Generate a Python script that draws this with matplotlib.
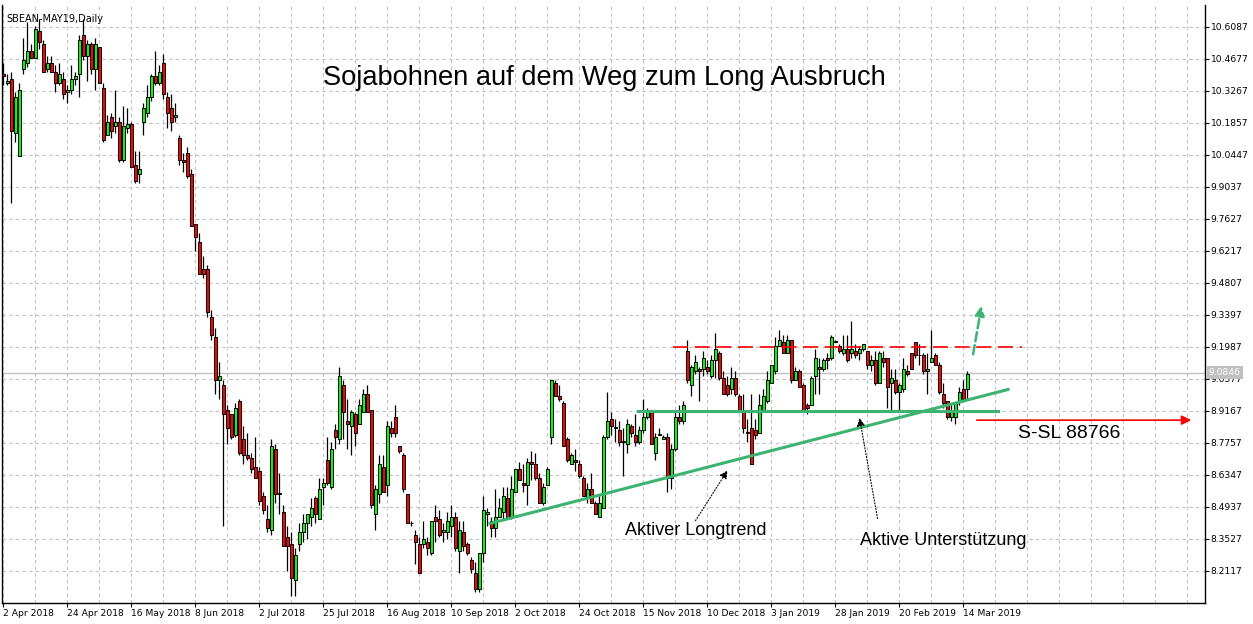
import numpy as np
import matplotlib.pyplot as plt

# daily candles SBEAN-MAY19, 2 Apr 2018 .. 14 Mar 2019
opens = [10.40, 10.36, 10.38, 10.14, 10.04, 10.42, 10.45, 10.50, 10.47, 10.59,
         10.53, 10.42, 10.45, 10.41, 10.36, 10.38, 10.32, 10.33, 10.38, 10.40,
         10.57, 10.48, 10.53, 10.42, 10.52, 10.34, 10.13, 10.21, 10.17, 10.19,
         10.02, 10.16, 10.18, 10.00, 9.96, 10.19, 10.23, 10.30, 10.39, 10.36,
         10.45, 10.30, 10.25, 10.21, 10.12, 10.02, 10.05, 9.96, 9.74, 9.66,
         9.54, 9.54, 9.33, 9.24, 9.05, 9.03, 8.92, 8.90, 8.81, 8.96,
         8.79, 8.72, 8.71, 8.67, 8.65, 8.54, 8.44, 8.39, 8.75, 8.55,
         8.47, 8.36, 8.33, 8.17, 8.33, 8.38, 8.42, 8.45, 8.53, 8.44,
         8.58, 8.70, 8.58, 8.83, 8.79, 9.03, 8.87, 8.85, 8.90, 8.86,
         8.91, 8.99, 8.92, 8.46, 8.55, 8.67, 8.59, 8.84, 8.89, 8.76,
         8.72, 8.55, 8.42, 8.37, 8.33, 8.33, 8.34, 8.29, 8.45, 8.44,
         8.38, 8.38, 8.41, 8.45, 8.30, 8.38, 8.33, 8.26, 8.20, 8.13,
         8.29, 8.46, 8.43, 8.40, 8.45, 8.47, 8.53, 8.45, 8.56, 8.66,
         8.60, 8.59, 8.69, 8.68, 8.62, 8.51, 8.59, 8.80, 9.04, 8.98,
         8.95, 8.79, 8.68, 8.70, 8.68, 8.62, 8.53, 8.57, 8.51, 8.45,
         8.49, 8.80, 8.88, 8.84, 8.83, 8.78, 8.77, 8.85, 8.81, 8.78,
         8.83, 8.89, 8.91, 8.73, 8.81, 8.79, 8.80, 8.62, 8.75, 8.89,
         8.87, 9.18, 9.03, 9.09, 9.10, 9.10, 9.11, 9.07, 9.14, 9.17,
         9.06, 9.03, 9.01, 9.06, 8.98, 8.92, 8.82, 8.84, 8.83, 8.82,
         8.92, 8.96, 9.04, 9.09, 9.20, 9.22, 9.17, 9.23, 9.05, 9.09,
         9.03, 8.94, 8.94, 9.07, 9.11, 9.10, 9.15, 9.15, 9.22, 9.20,
         9.17, 9.19, 9.17, 9.18, 9.17, 9.19, 9.18, 9.12, 9.14, 9.04,
         9.15, 9.15, 9.04, 9.05, 9.00, 9.01, 9.09, 9.17, 9.22, 9.16,
         9.16, 9.09, 9.13, 9.16, 9.12, 8.99, 8.96, 8.89, 8.89, 8.96,
         9.01, 9.01]
highs = [10.45, 10.40, 10.41, 10.32, 10.36, 10.56, 10.63, 10.53, 10.61, 10.64,
         10.55, 10.48, 10.48, 10.44, 10.45, 10.41, 10.35, 10.44, 10.41, 10.57,
         10.64, 10.55, 10.54, 10.56, 10.52, 10.36, 10.22, 10.23, 10.33, 10.21,
         10.26, 10.25, 10.19, 10.06, 10.06, 10.27, 10.35, 10.40, 10.50, 10.44,
         10.49, 10.32, 10.31, 10.27, 10.13, 10.05, 10.08, 9.98, 9.74, 9.70,
         9.60, 9.56, 9.36, 9.28, 9.13, 9.05, 8.94, 8.90, 8.95, 8.97,
         8.85, 8.82, 8.73, 8.80, 8.67, 8.56, 8.50, 8.79, 8.77, 8.64,
         8.50, 8.41, 8.38, 8.31, 8.42, 8.46, 8.46, 8.53, 8.54, 8.62,
         8.62, 8.80, 8.78, 8.86, 9.11, 9.05, 8.97, 8.92, 8.91, 8.97,
         9.01, 9.03, 8.92, 8.59, 8.72, 8.72, 8.87, 8.87, 8.94, 8.76,
         8.73, 8.55, 8.43, 8.39, 8.36, 8.43, 8.36, 8.43, 8.50, 8.48,
         8.42, 8.47, 8.50, 8.47, 8.43, 8.43, 8.34, 8.27, 8.25, 8.29,
         8.54, 8.49, 8.45, 8.57, 8.53, 8.58, 8.58, 8.63, 8.66, 8.69,
         8.68, 8.71, 8.74, 8.73, 8.64, 8.60, 8.67, 9.05, 9.05, 9.03,
         8.96, 8.80, 8.73, 8.75, 8.70, 8.63, 8.60, 8.64, 8.52, 8.54,
         8.81, 9.00, 8.91, 8.88, 8.87, 8.84, 8.88, 8.86, 8.90, 8.85,
         8.97, 8.93, 8.91, 8.82, 8.84, 8.81, 8.82, 8.77, 8.91, 8.94,
         8.96, 9.23, 9.12, 9.16, 9.11, 9.18, 9.14, 9.16, 9.26, 9.18,
         9.09, 9.07, 9.11, 9.09, 8.99, 8.99, 8.88, 8.99, 8.88, 8.99,
         9.01, 9.09, 9.12, 9.24, 9.27, 9.25, 9.25, 9.23, 9.11, 9.10,
         9.04, 8.95, 9.07, 9.19, 9.15, 9.15, 9.17, 9.25, 9.23, 9.21,
         9.25, 9.25, 9.31, 9.21, 9.20, 9.21, 9.18, 9.16, 9.18, 9.18,
         9.18, 9.15, 9.10, 9.10, 9.04, 9.15, 9.12, 9.17, 9.22, 9.21,
         9.17, 9.17, 9.27, 9.17, 9.13, 9.04, 8.96, 8.95, 8.95, 9.02,
         9.05, 9.09]
lows = [10.35, 10.35, 9.83, 10.10, 10.04, 10.40, 10.43, 10.47, 10.47, 10.51,
        10.41, 10.41, 10.41, 10.32, 10.35, 10.29, 10.27, 10.31, 10.35, 10.30,
        10.46, 10.37, 10.40, 10.33, 10.36, 10.10, 10.13, 10.12, 10.14, 10.01,
        10.01, 10.14, 9.99, 9.92, 9.92, 10.13, 10.21, 10.28, 10.35, 10.35,
        10.29, 10.16, 10.15, 10.19, 10.00, 9.97, 9.94, 9.73, 9.62, 9.52,
        9.50, 9.33, 9.23, 8.99, 8.97, 8.41, 8.77, 8.79, 8.80, 8.72,
        8.68, 8.70, 8.64, 8.62, 8.50, 8.46, 8.38, 8.37, 8.51, 8.46,
        8.32, 8.21, 8.10, 8.10, 8.30, 8.34, 8.35, 8.41, 8.42, 8.44,
        8.50, 8.59, 8.57, 8.75, 8.77, 8.79, 8.75, 8.72, 8.76, 8.86,
        8.91, 8.91, 8.49, 8.39, 8.51, 8.56, 8.54, 8.80, 8.80, 8.73,
        8.56, 8.42, 8.41, 8.24, 8.20, 8.31, 8.28, 8.28, 8.34, 8.36,
        8.34, 8.35, 8.36, 8.30, 8.20, 8.30, 8.28, 8.20, 8.12, 8.12,
        8.25, 8.41, 8.36, 8.36, 8.45, 8.44, 8.44, 8.44, 8.56, 8.61,
        8.56, 8.50, 8.61, 8.61, 8.51, 8.50, 8.59, 8.77, 8.98, 8.96,
        8.76, 8.69, 8.68, 8.65, 8.62, 8.54, 8.51, 8.51, 8.46, 8.45,
        8.49, 8.79, 8.81, 8.78, 8.76, 8.63, 8.73, 8.80, 8.76, 8.77,
        8.82, 8.88, 8.77, 8.70, 8.81, 8.79, 8.56, 8.57, 8.74, 8.86,
        8.86, 9.04, 8.98, 9.08, 8.96, 9.07, 9.08, 9.06, 9.06, 9.05,
        8.99, 8.98, 8.99, 8.98, 8.92, 8.82, 8.78, 8.68, 8.79, 8.82,
        8.92, 8.95, 9.04, 9.08, 9.20, 9.17, 9.17, 9.04, 9.05, 9.02,
        8.92, 8.90, 8.94, 8.99, 8.99, 9.09, 9.10, 9.14, 9.22, 9.17,
        9.16, 9.13, 9.15, 9.15, 9.14, 9.18, 9.10, 9.09, 9.03, 9.04,
        9.11, 8.93, 8.92, 8.99, 8.92, 9.00, 9.07, 9.10, 9.15, 9.12,
        9.08, 8.99, 9.13, 9.12, 8.99, 8.93, 8.88, 8.87, 8.86, 8.94,
        8.96, 8.97]
closes = [10.39, 10.37, 10.15, 10.30, 10.33, 10.46, 10.50, 10.47, 10.60, 10.54,
          10.41, 10.45, 10.41, 10.36, 10.40, 10.31, 10.33, 10.38, 10.39, 10.55,
          10.48, 10.53, 10.42, 10.53, 10.36, 10.11, 10.19, 10.15, 10.19, 10.02,
          10.17, 10.18, 9.99, 9.93, 9.98, 10.25, 10.30, 10.39, 10.36, 10.41,
          10.31, 10.23, 10.19, 10.22, 10.02, 10.01, 9.95, 9.73, 9.68, 9.52,
          9.52, 9.35, 9.25, 9.05, 9.07, 8.90, 8.84, 8.80, 8.93, 8.73,
          8.72, 8.71, 8.66, 8.62, 8.52, 8.48, 8.40, 8.76, 8.55, 8.55,
          8.32, 8.32, 8.18, 8.28, 8.38, 8.42, 8.46, 8.49, 8.46, 8.57,
          8.60, 8.60, 8.75, 8.80, 9.07, 8.91, 8.86, 8.91, 8.82, 8.94,
          8.99, 8.91, 8.50, 8.57, 8.68, 8.56, 8.85, 8.82, 8.82, 8.74,
          8.57, 8.42, 8.42, 8.34, 8.20, 8.35, 8.31, 8.43, 8.43, 8.37,
          8.39, 8.43, 8.45, 8.31, 8.39, 8.32, 8.29, 8.22, 8.13, 8.29,
          8.48, 8.47, 8.40, 8.45, 8.49, 8.54, 8.45, 8.57, 8.66, 8.61,
          8.59, 8.69, 8.68, 8.62, 8.51, 8.58, 8.66, 9.05, 8.98, 8.97,
          8.76, 8.70, 8.72, 8.69, 8.63, 8.54, 8.57, 8.51, 8.46, 8.51,
          8.80, 8.87, 8.85, 8.84, 8.78, 8.78, 8.86, 8.82, 8.78, 8.83,
          8.89, 8.91, 8.77, 8.80, 8.81, 8.80, 8.62, 8.75, 8.89, 8.87,
          8.94, 9.05, 9.11, 9.13, 9.09, 9.15, 9.09, 9.14, 9.19, 9.06,
          8.99, 8.99, 9.06, 8.99, 8.92, 8.84, 8.82, 8.68, 8.81, 8.94,
          8.98, 9.05, 9.12, 9.20, 9.23, 9.17, 9.23, 9.05, 9.09, 9.02,
          8.92, 8.93, 9.06, 9.15, 9.10, 9.14, 9.14, 9.24, 9.22, 9.18,
          9.19, 9.14, 9.19, 9.16, 9.19, 9.21, 9.12, 9.14, 9.04, 9.17,
          9.13, 9.02, 9.06, 9.00, 9.03, 9.10, 9.08, 9.10, 9.16, 9.16,
          9.09, 9.10, 9.15, 9.12, 9.00, 8.95, 8.89, 8.92, 8.95, 9.00,
          8.97, 9.08]

date_labels = ['2 Apr 2018', '24 Apr 2018', '16 May 2018', '8 Jun 2018',
               '2 Jul 2018', '25 Jul 2018', '16 Aug 2018', '10 Sep 2018',
               '2 Oct 2018', '24 Oct 2018', '15 Nov 2018', '10 Dec 2018',
               '3 Jan 2019', '28 Jan 2019', '20 Feb 2019', '14 Mar 2019']
price_ticks = [8.2117, 8.3527, 8.4937, 8.6347, 8.7757, 8.9167, 9.0577, 9.1987,
               9.3397, 9.4807, 9.6217, 9.7627, 9.9037, 10.0447, 10.1857,
               10.3267, 10.4677, 10.6087]
last_price = 9.0846
stop_level = 8.875
resistance = 9.198
support = 8.917

o = np.array(opens); h = np.array(highs); l = np.array(lows); c = np.array(closes)
idx = np.arange(len(o))

fig = plt.figure(figsize=(12.53, 6.24), dpi=100)
ax = fig.add_axes([2 / 1253, 21 / 624, 1203 / 1253, 598 / 624])
ax.set_xlim(-0.25, 300.5)
ax.set_ylim(8.0694, 10.7038)

# grid
for gx in range(0, 301, 8):
    ax.axvline(gx, color='#c0c0c0', lw=0.8, ls=(0, (3, 3)), zorder=0)
for gy in price_ticks:
    ax.axhline(gy, color='#c0c0c0', lw=0.8, ls=(0, (3, 3)), zorder=0)
ax.axhline(last_price, color='#c0c0c0', lw=1.0, zorder=0.5)

# candles
up = c >= o
ax.vlines(idx, l, h, color='black', lw=0.9, zorder=2)
body_h = np.maximum(np.abs(c - o), 0.004)
ax.bar(idx, body_h, bottom=np.minimum(o, c), width=0.75,
       color=np.where(up, '#00ff00', '#ff0000'), edgecolor='black', lw=0.7, zorder=3)

green = '#3cb371'
# trend line, support, resistance
ax.plot([121.75, 251.25], [8.42, 9.01], color=green, lw=2.2, zorder=4)
ax.plot([158.75, 248.75], [support, support], color=green, lw=2.2, zorder=4)
ax.plot([167.5, 254.75], [resistance, resistance], color='red', lw=1.2,
        dashes=(9, 4), zorder=4)
# breakout arrow
ax.annotate('', xy=(244.75, 9.39), xytext=(242.4, 9.153),
            arrowprops=dict(arrowstyle='-|>', color=green, lw=1.8, ls='--',
                            mutation_scale=14), zorder=5)
# stop loss arrow
ax.annotate('', xy=(297.75, stop_level), xytext=(242.75, stop_level),
            arrowprops=dict(arrowstyle='-|>', color='red', lw=1.2,
                            mutation_scale=14), zorder=5)
# pointer arrows
ax.annotate('', xy=(181.5, 8.664), xytext=(172.75, 8.4217),
            arrowprops=dict(arrowstyle='-|>', color='black', lw=0.8, ls=':',
                            mutation_scale=12), zorder=5)
ax.annotate('', xy=(214, 8.897), xytext=(218.75, 8.43),
            arrowprops=dict(arrowstyle='-|>', color='black', lw=0.8, ls=':',
                            mutation_scale=12), zorder=5)

tf = dict(family='Liberation Sans', color='black', ha='center', va='center')
ax.text(150.25, 10.384, 'Sojabohnen auf dem Weg zum Long Ausbruch', fontsize=19.6, **tf)
ax.text(173.25, 8.387, 'Aktiver Longtrend', fontsize=13, **tf)
ax.text(235, 8.343, 'Aktive Unterstützung', fontsize=13, **tf)
ax.text(266.5, 8.814, 'S-SL 88766', fontsize=14, **tf)
ax.text(0.004, 0.985, 'SBEAN-MAY19,Daily', transform=ax.transAxes, fontsize=7,
        ha='left', va='top', color='black')

# axes
ax.yaxis.tick_right()
ax.set_yticks(price_ticks)
ax.set_yticklabels(['%.4f' % p for p in price_ticks])
ax.set_xticks(np.arange(0, 241, 16))
ax.set_xticklabels(date_labels, ha='left')
ax.tick_params(axis='both', labelsize=6.6, length=3, width=0.8, colors='black', pad=1)
for lab in ax.get_xticklabels():
    lab.set_horizontalalignment('left')
ax.text(1.003, (last_price - 8.0694) / (10.7038 - 8.0694), '%.4f' % last_price,
        transform=ax.transAxes, fontsize=6.6, color='white', ha='left', va='center',
        zorder=10, bbox=dict(facecolor='#c0c0c0', edgecolor='none', pad=1.5))
ax.spines['top'].set_visible(False)
for s in ['left', 'right', 'bottom']:
    ax.spines[s].set_linewidth(1.0)

fig.savefig('out.png', dpi=100)
